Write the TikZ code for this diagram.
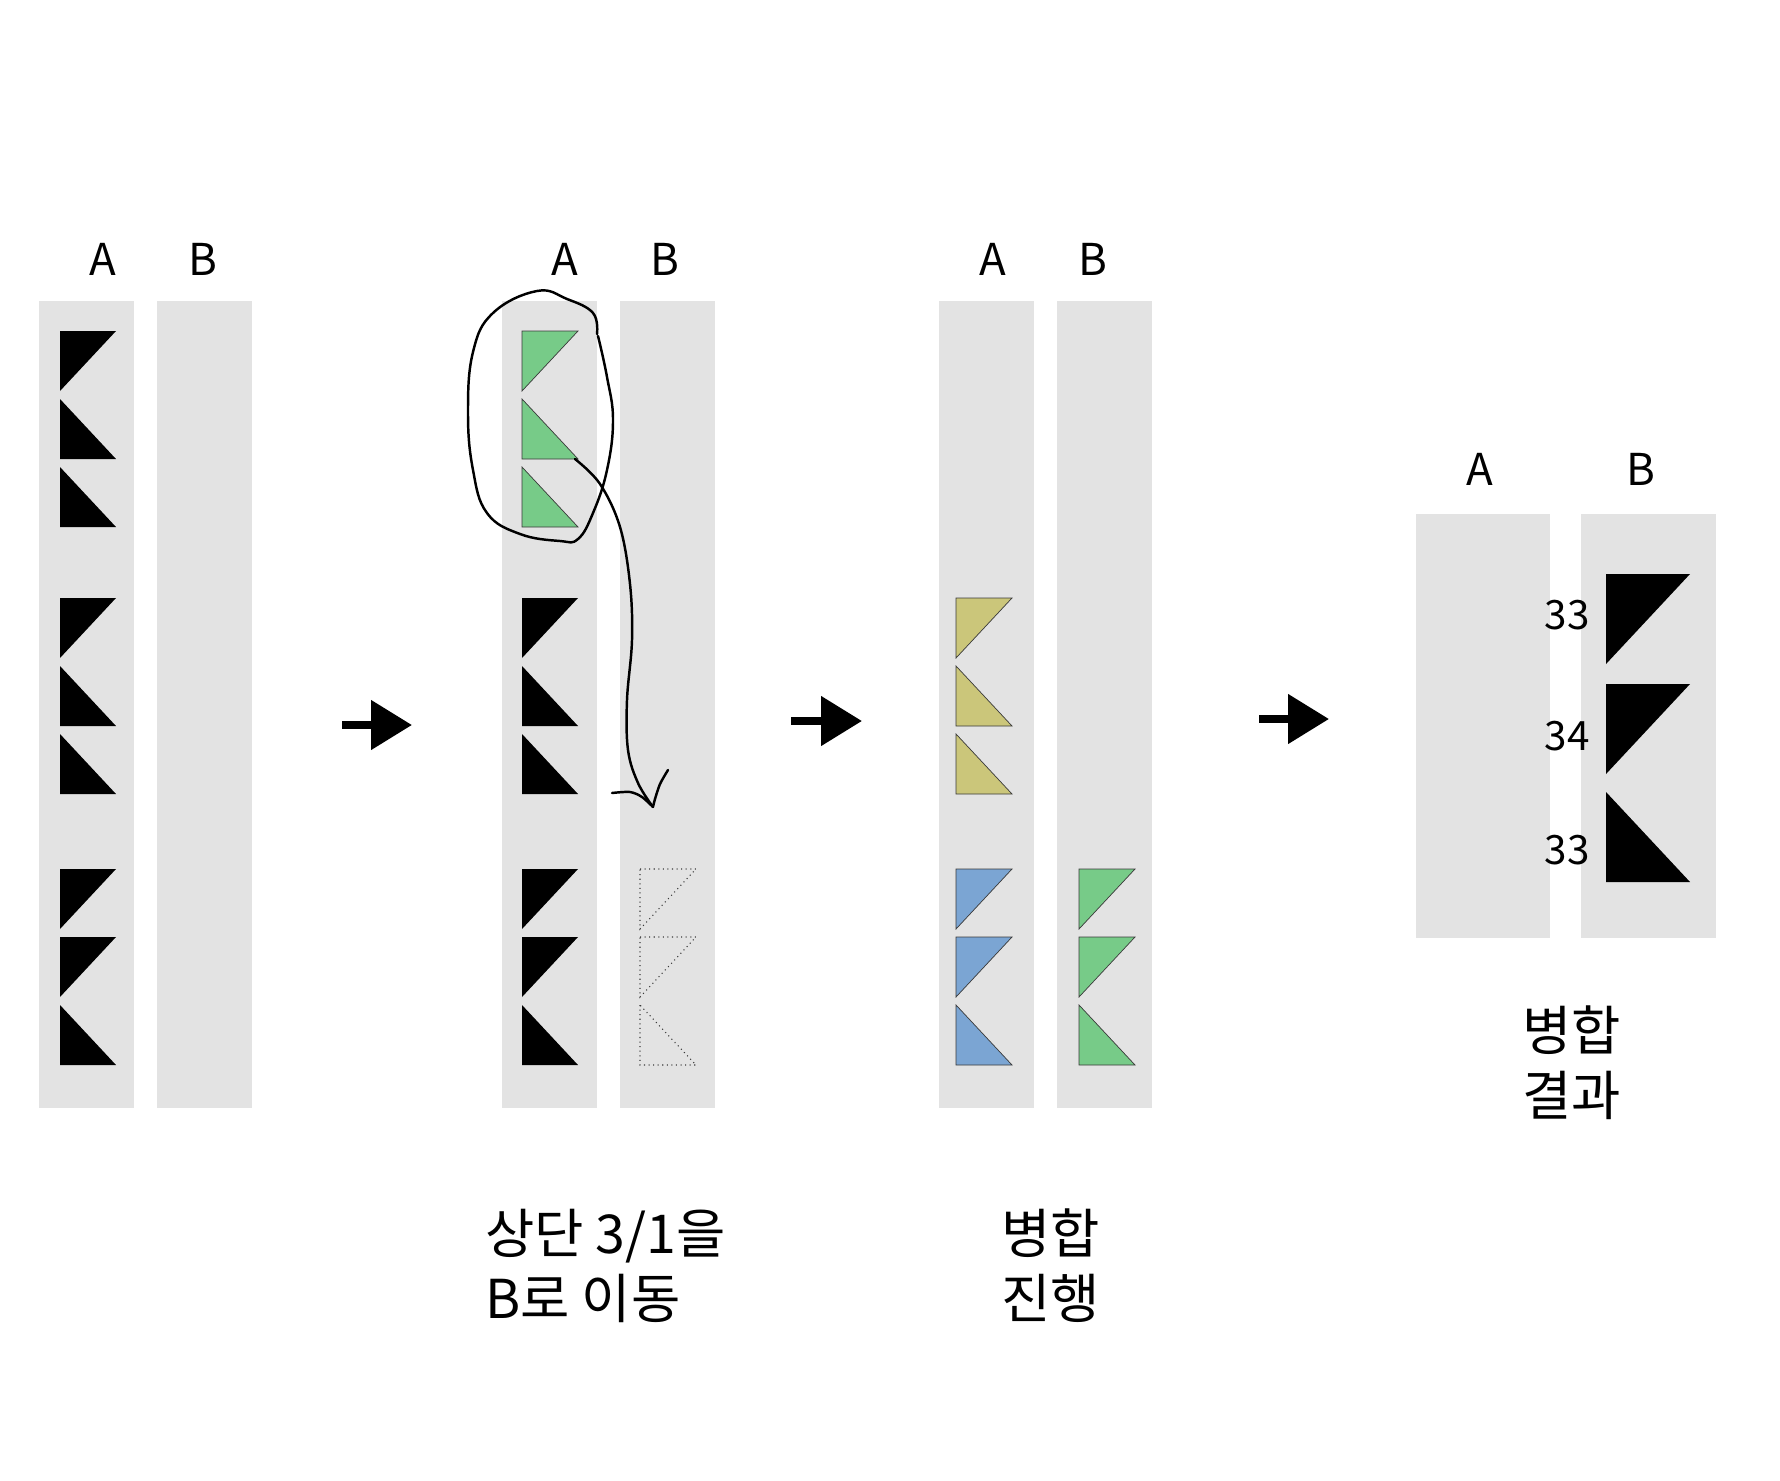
\documentclass[tikz,border=0pt]{standalone}
\usepackage{fontspec}
\setmainfont{Noto Sans CJK KR}
\usepackage{tikz}
\usetikzlibrary{arrows.meta}
\definecolor{ColGray}{HTML}{E3E3E3}
\definecolor{MoveGreen}{HTML}{77CB88}
\definecolor{MergeKhaki}{HTML}{CBC67A}
\definecolor{MergeBlue}{HTML}{7BA5D3}
\definecolor{EdgeInk}{HTML}{3A3A3A}

% one wedge of height \triH and width \triW, top left corner at (#2,#3)
\newcommand{\triW}{56}
\newcommand{\triH}{60}
\newcommand{\wedgeTL}[3]{\path[#1] (#2,#3) -- ++(\triW,0) -- ++(-\triW,\triH) -- cycle;}
\newcommand{\wedgeBL}[3]{\path[#1] (#2,#3) -- ++(0,\triH) -- ++(\triW,0) -- cycle;}

\tikzset{
  col/.style={fill=ColGray},
  solid wedge/.style={fill=black},
  green wedge/.style={fill=MoveGreen,draw=EdgeInk,line width=0.4pt},
  khaki wedge/.style={fill=MergeKhaki,draw=EdgeInk,line width=0.4pt},
  blue wedge/.style={fill=MergeBlue,draw=EdgeInk,line width=0.4pt},
  ghost wedge/.style={draw=EdgeInk,dotted,line width=0.6pt},
  lbl/.style={font=\fontsize{25}{30}\selectfont},
  num/.style={font=\fontsize{23}{27}\selectfont},
  note/.style={font=\fontsize{30.5}{37}\selectfont,align=left,anchor=base west,inner sep=0pt},
  flow/.style={line width=4.5pt,-{Triangle[length=23.3pt,width=27.3pt]}},
  pen/.style={line width=1.4pt,line cap=round,line join=round}
}

\begin{document}
\begin{tikzpicture}[x=0.02cm,y=-0.02cm]
  \useasboundingbox (0,0) rectangle (1780,1480);

  % before
  \fill[col] (39,301) rectangle (134,1108);
  \fill[col] (157,301) rectangle (252,1108);
  \node[lbl] (s1A) at (103,259) {A};
  \node[lbl] (s1B) at (203,259) {B};
  \foreach \dy/\w in {0/\wedgeTL,68/\wedgeBL,136/\wedgeBL}{
    \w{solid wedge}{60}{331+\dy}
    \w{solid wedge}{60}{598+\dy}
  }
  \foreach \dy/\w in {0/\wedgeTL,68/\wedgeTL,136/\wedgeBL}
    \w{solid wedge}{60}{869+\dy};

  \coordinate (go1a) at (342,725);
  \coordinate (go1b) at (412,725);
  \draw[flow] (go1a) -- (go1b);

  % move top third
  \fill[col] (502,301) rectangle (597,1108);
  \fill[col] (620,301) rectangle (715,1108);
  \node[lbl] (s2A) at (565,259) {A};
  \node[lbl] (s2B) at (665,259) {B};
  \foreach \dy/\w in {0/\wedgeTL,68/\wedgeBL,136/\wedgeBL}{
    \w{green wedge}{522}{331+\dy}
    \w{solid wedge}{522}{598+\dy}
  }
  \foreach \dy/\w in {0/\wedgeTL,68/\wedgeTL,136/\wedgeBL}{
    \w{solid wedge}{522}{869+\dy}
    \w{ghost wedge}{640}{869+\dy}
  }
  \draw[pen] plot[smooth,tension=0.7] coordinates {(598,336) (607,377) (613,420) (607,470) (593,513) (578,539) (560,541) (520,534) (487,513) (473,470) (468,413) (473,352) (493,313) (537,291) (567,299) (593,313) (597,334)};
  \coordinate (moveFrom) at (575,459);
  \coordinate (moveTip) at (653,807);
  \draw[pen] plot[smooth,tension=0.6] coordinates {(moveFrom) (600,484) (620,527) (630,584) (632,640) (627,700) (628,750) (638,783) (moveTip)};
  \draw[pen] plot[smooth] coordinates {(612,793) (630,792) (642,797) (moveTip)};
  \draw[pen] plot[smooth] coordinates {(668,770) (660,784) (655,799) (moveTip)};
  \node[note] (cap2) at (485,1318) {상단 3/1을\\B로 이동};

  \coordinate (go2a) at (791,721);
  \coordinate (go2b) at (862,721);
  \draw[flow] (go2a) -- (go2b);

  % merging
  \fill[col] (939,301) rectangle (1034,1108);
  \fill[col] (1057,301) rectangle (1152,1108);
  \node[lbl] (s3A) at (993,259) {A};
  \node[lbl] (s3B) at (1093,259) {B};
  \foreach \dy/\w in {0/\wedgeTL,68/\wedgeBL,136/\wedgeBL}
    \w{khaki wedge}{956}{598+\dy};
  \foreach \dy/\w in {0/\wedgeTL,68/\wedgeTL,136/\wedgeBL}{
    \w{blue wedge}{956}{869+\dy}
    \w{green wedge}{1079}{869+\dy}
  }
  \node[note] (cap3) at (1001,1318) {병합\\진행};

  \coordinate (go3a) at (1259,719);
  \coordinate (go3b) at (1329,719);
  \draw[flow] (go3a) -- (go3b);

  % result
  \fill[col] (1416,514) rectangle (1550,938);
  \fill[col] (1581,514) rectangle (1716,938);
  \node[lbl] (s4A) at (1480,469) {A};
  \node[lbl] (s4B) at (1641,469) {B};
  \begin{scope}
    \renewcommand{\triW}{84}
    \renewcommand{\triH}{90}
    \foreach \y/\w in {574/\wedgeTL,684/\wedgeTL,792/\wedgeBL}
      \w{solid wedge}{1606}{\y};
  \end{scope}
  \node[num] (n1) at (1567,615) {33};
  \node[num] (n2) at (1567,736) {34};
  \node[num] (n3) at (1567,850) {33};
  \node[note] (cap4) at (1522,1115) {병합\\결과};
\end{tikzpicture}
\end{document}
